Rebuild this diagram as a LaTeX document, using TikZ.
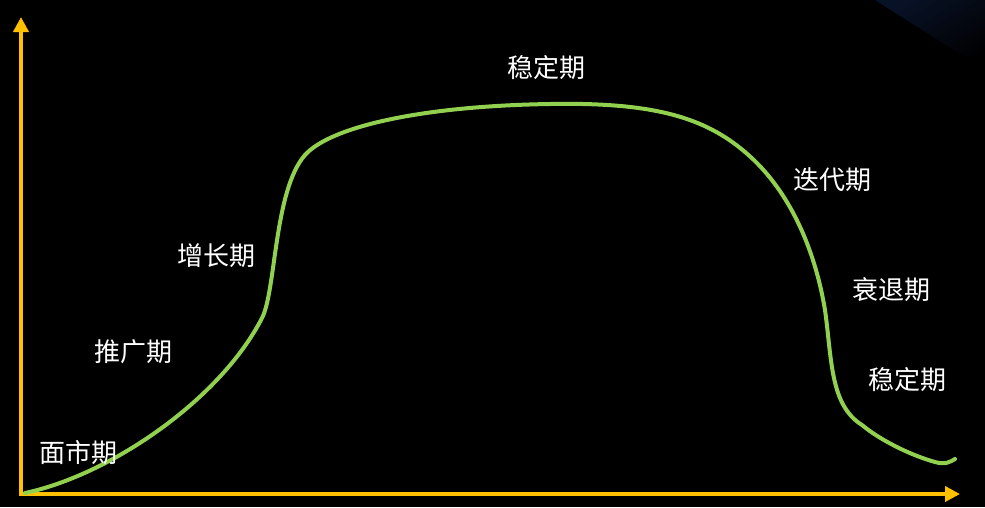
\documentclass[tikz,border=0pt]{standalone}
\usepackage{fontspec}
\usetikzlibrary{arrows.meta}
\newfontfamily\cjk{Noto Sans CJK SC}
\definecolor{axisyellow}{HTML}{FFC000}
\definecolor{curvegreen}{HTML}{92D050}
\definecolor{glowblue}{RGB}{8,18,38}
\begin{document}
\begin{tikzpicture}[x=1pt,y=-1pt,
  axis/.style={draw=axisyellow,line width=4pt,-{Triangle[length=15pt,width=15pt]}},
  lbl/.style={text=white,font=\cjk\fontsize{26}{30}\selectfont,inner sep=0pt},
  curve/.style={draw=curvegreen,line width=4pt,line cap=round}]
\fill[black] (0,0) rectangle (985,507);
\useasboundingbox (0,0) rectangle (985,507);
\shade[left color=glowblue,right color=black,shading angle=30] (875,0) -- (985,0) -- (985,70) -- cycle;
\coordinate (ytip) at (21,17);
\coordinate (xtip) at (960,494);
\draw[axis] (21,496) -- (ytip);
\draw[axis] (19,494) -- (xtip);
\draw[curve] (25,493) .. controls (110,475) and (220,400) .. (262,318)
  .. controls (276,291) and (274,190) .. (305,155)
  .. controls (330,127) and (420,106) .. (550,104)
  .. controls (655,102) and (705,118) .. (745,152)
  .. controls (790,190) and (815,250) .. (825,310)
  .. controls (832,360) and (830,405) .. (862,425)
  .. controls (880,440) and (910,455) .. (935,462)
  .. controls (945,465) and (950,462) .. (955,459);
\node[lbl] (s1) at (546,68) {稳定期};
\node[lbl] (d) at (832,180) {迭代期};
\node[lbl] (g) at (216,256) {增长期};
\node[lbl] (r) at (891,290) {衰退期};
\node[lbl] (p) at (133,352) {推广期};
\node[lbl] (s2) at (907,380) {稳定期};
\node[lbl] (m) at (78,453) {面市期};
\end{tikzpicture}
\end{document}
